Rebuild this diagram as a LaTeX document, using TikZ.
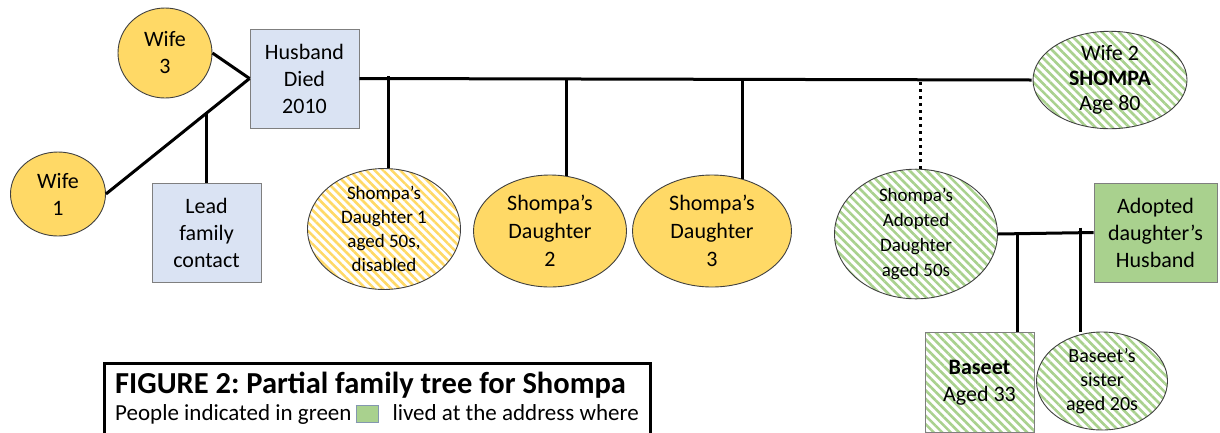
\documentclass[tikz,border=0pt]{standalone}
\usepackage{fontspec}
\setmainfont{Carlito}
\frenchspacing
\usetikzlibrary{shapes.geometric,patterns.meta,calc}
\definecolor{boxblue}{HTML}{DAE3F3}
\definecolor{gold}{HTML}{FFD966}
\definecolor{leafgreen}{HTML}{A9D18E}
\definecolor{edgegrey}{HTML}{7F7F7F}
\definecolor{ringgrey}{HTML}{404040}
\definecolor{swatchedge}{HTML}{8497B0}
\newcommand{\swatch}{{\setlength{\fboxsep}{0pt}\setlength{\fboxrule}{1pt}%
  \raisebox{-2pt}{\fcolorbox{swatchedge}{leafgreen}{\rule{0pt}{16pt}\hspace{21pt}}}}}
\tikzset{
  person/.style={ellipse,draw=ringgrey,line width=0.9pt,inner sep=0pt,
    align=center,font=\fontsize{22}{27}\selectfont},
  partner/.style={person,fill=gold},
  hatched/.style={pattern={Lines[angle=-45,distance=6pt,line width=2.6pt]}},
  frail/.style={person,hatched,pattern color=gold},
  household/.style={person,hatched,pattern color=leafgreen},
  manbox/.style={draw=edgegrey,line width=0.9pt,fill=boxblue,inner sep=0pt,
    align=center,font=\fontsize{22}{27}\selectfont,minimum width=109pt,minimum height=99pt},
  tie/.style={line width=3pt,draw=black},
  small/.style={font=\fontsize{19}{24}\selectfont}
}
\begin{document}
\begin{tikzpicture}[x=1pt,y=-1pt]
  \clip (0,0) rectangle (1220,432);

  % first marriage line
  \node[manbox] (husband) at (304.5,78.5) {Husband\\Died\\2010};
  \node[manbox] (lead) at (206.5,232.5) {Lead\\family\\contact};
  \node[partner,minimum width=94pt,minimum height=90pt] (wifethree) at (165,53) {Wife\\3};
  \node[partner,minimum width=95pt,minimum height=84pt] (wifeone) at (58,194) {Wife\\1};
  \node[household,minimum width=154pt,minimum height=94pt,font=\fontsize{22}{25}\selectfont]
    (wifetwo) at (1110,80) {Wife 2\\\textbf{SHOMPA}\\Age 80};

  \draw[tie] (wifethree.east) -- (husband.west);
  \draw[tie] (wifeone.east) -- (husband.west);
  \coordinate (leadjoin) at ($(wifeone.east)!0.69!(husband.west)$);
  \draw[tie] (lead.north) -- (lead.north |- leadjoin);
  \draw[tie] (husband.east) -- (wifetwo.west);

  % Shompa's daughters
  \node[frail,small,minimum width=153pt,minimum height=118pt] (dauone) at (384,229)
    {Shompa’s\\Daughter 1\\aged 50s,\\disabled};
  \node[partner,minimum width=153pt,minimum height=112pt,font=\fontsize{22}{28}\selectfont]
    (dautwo) at (550,231) {Shompa’s\\Daughter\\2};
  \node[partner,minimum width=159pt,minimum height=112pt,font=\fontsize{22}{28}\selectfont]
    (dauthree) at (712,231) {Shompa’s\\Daughter\\3};
  \node[household,minimum width=163pt,minimum height=114pt,font=\fontsize{19}{25}\selectfont]
    (adopted) at (916,234) {Shompa’s\\Adopted\\Daughter\\aged 50s};

  \draw[tie] (dauone.86) -- ($(dauone.86 |- husband.east)+(0,-3)$);
  \draw[tie] (dautwo.73) -- (dautwo.73 |- husband.east);
  \draw[tie] (dauthree.60) -- (dauthree.60 |- husband.east);
  \draw[tie,dash pattern=on 3pt off 4pt] (adopted.86) -- (adopted.86 |- husband.east);

  % adopted daughter's family
  \node[manbox,fill=leafgreen,minimum width=123pt] (adhusband) at (1155.5,232.5)
    {Adopted\\daughter’s\\Husband};
  \node[manbox,fill=none,hatched,pattern color=leafgreen,minimum height=100pt,anchor=north]
    (baseet) at (979.5,332) {\textbf{Baseet}\\Aged 33};
  \node[household,minimum width=131pt,minimum height=98pt,font=\fontsize{20}{24}\selectfont]
    (sister) at (1102,381) {Baseet’s\\sister\\aged 20s};

  \draw[tie] (adopted.east) -- (adhusband.west);
  \coordinate (kidone) at ($(adopted.east)!0.2!(adhusband.west)$);
  \coordinate (kidtwo) at ($(adopted.east)!0.866!(adhusband.west)$);
  \draw[tie] (kidone) -- (kidone |- baseet.north);
  \draw[tie] ($(kidtwo)+(0,-5)$) -- (kidtwo |- sister.north);

  % caption box
  \node[draw=black,line width=2.5pt,minimum width=546pt,minimum height=90pt,
    anchor=north west,inner sep=0pt] (legend) at (103,362) {};
  \node[anchor=base west,inner sep=0pt,font=\fontsize{30.5}{36}\selectfont\bfseries]
    (legendtitle) at (115,393) {FIGURE 2: Partial family tree for Shompa};
  \node[anchor=base west,inner sep=0pt,font=\fontsize{23}{28}\selectfont]
    (legendnote) at (115,420) {People indicated in green\hspace{4pt}\swatch\hspace{14pt}lived at the address where};
\end{tikzpicture}
\end{document}
